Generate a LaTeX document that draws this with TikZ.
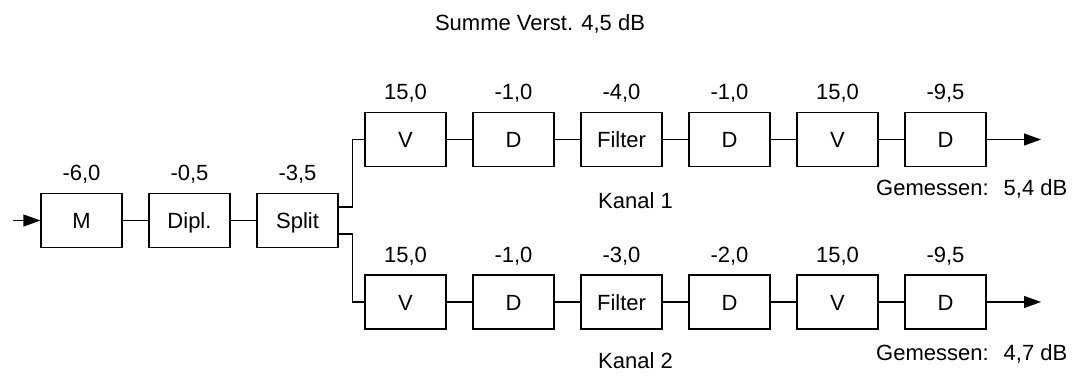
\documentclass[tikz,border=0pt]{standalone}
\usepackage{fontspec}
\setmainfont{Liberation Sans}
\usetikzlibrary{arrows.meta}
\begin{document}
\begin{tikzpicture}[x=1pt,y=-1pt,
  font=\fontsize{22}{26}\selectfont,
  blk/.style={draw,line width=1.1pt,minimum width=81pt,minimum height=54pt,inner sep=0pt,text height=16pt,text depth=0pt},
  lbl/.style={anchor=base,inner sep=0pt},
  txt/.style={anchor=base west,inner sep=0pt},
  wire/.style={line width=1.1pt},
  arr/.style={line width=1.1pt,-{Triangle[length=17pt,width=12pt]}}]
\useasboundingbox (0,0) rectangle (1079,376);
% input chain
\node[blk] (m) at (81.5,220.5) {M};
\node[blk] (dipl) at (189.5,220.5) {Dipl.};
\node[blk] (split) at (297.5,220.5) {Split};
\node[lbl] (lm) at ([yshift=12pt]m.north) {-6,0};
\node[lbl] (ld) at ([yshift=12pt]dipl.north) {-0,5};
\node[lbl] (ls) at ([yshift=12pt]split.north) {-3,5};
% channel 1
\node[blk] (a1) at (405.5,139.5) {V};
\node[blk] (a2) at (513.5,139.5) {D};
\node[blk] (a3) at (621.5,139.5) {Filter};
\node[blk] (a4) at (729.5,139.5) {D};
\node[blk] (a5) at (837.5,139.5) {V};
\node[blk] (a6) at (945.5,139.5) {D};
\node[lbl] (la1) at ([yshift=12pt]a1.north) {15,0};
\node[lbl] (la2) at ([yshift=12pt]a2.north) {-1,0};
\node[lbl] (la3) at ([yshift=12pt]a3.north) {-4,0};
\node[lbl] (la4) at ([yshift=12pt]a4.north) {-1,0};
\node[lbl] (la5) at ([yshift=12pt]a5.north) {15,0};
\node[lbl] (la6) at ([yshift=12pt]a6.north) {-9,5};
% channel 2
\node[blk] (b1) at (405.5,302) {V};
\node[blk] (b2) at (513.5,302) {D};
\node[blk] (b3) at (621.5,302) {Filter};
\node[blk] (b4) at (729.5,302) {D};
\node[blk] (b5) at (837.5,302) {V};
\node[blk] (b6) at (945.5,302) {D};
\node[lbl] (lb1) at ([yshift=12pt]b1.north) {15,0};
\node[lbl] (lb2) at ([yshift=12pt]b2.north) {-1,0};
\node[lbl] (lb3) at ([yshift=12pt]b3.north) {-3,0};
\node[lbl] (lb4) at ([yshift=12pt]b4.north) {-2,0};
\node[lbl] (lb5) at ([yshift=12pt]b5.north) {15,0};
\node[lbl] (lb6) at ([yshift=12pt]b6.north) {-9,5};
% texts
\node[lbl] (summe) at (540,30) {Summe Verst. 4,5 dB};
\node[txt] (k1) at (598,208) {Kanal 1};
\node[txt] (k2) at (598,368) {Kanal 2};
\node[txt] (g1) at (876,195) {Gemessen:\hspace{15pt}5,4 dB};
\node[txt] (g2) at (876,360) {Gemessen:\hspace{15pt}4,7 dB};
% coordinates
\coordinate (in) at (13,220.5);
\coordinate (out1) at (1041,139.5);
\coordinate (out2) at (1041,302);
% connectors
\draw[arr] (in) -- (m);
\draw[wire] (m) -- (dipl);
\draw[wire] (dipl) -- (split);
\draw[wire] ([yshift=13.5pt]split.east) -- ++(14,0) |- (a1.west);
\draw[wire] ([yshift=-13.5pt]split.east) -- ++(14,0) |- (b1.west);
\draw[wire] (a1) -- (a2);
\draw[wire] (a2) -- (a3);
\draw[wire] (a3) -- (a4);
\draw[wire] (a4) -- (a5);
\draw[wire] (a5) -- (a6);
\draw[arr] (a6) -- (out1);
\draw[wire] (b1) -- (b2);
\draw[wire] (b2) -- (b3);
\draw[wire] (b3) -- (b4);
\draw[wire] (b4) -- (b5);
\draw[wire] (b5) -- (b6);
\draw[arr] (b6) -- (out2);
\end{tikzpicture}
\end{document}
